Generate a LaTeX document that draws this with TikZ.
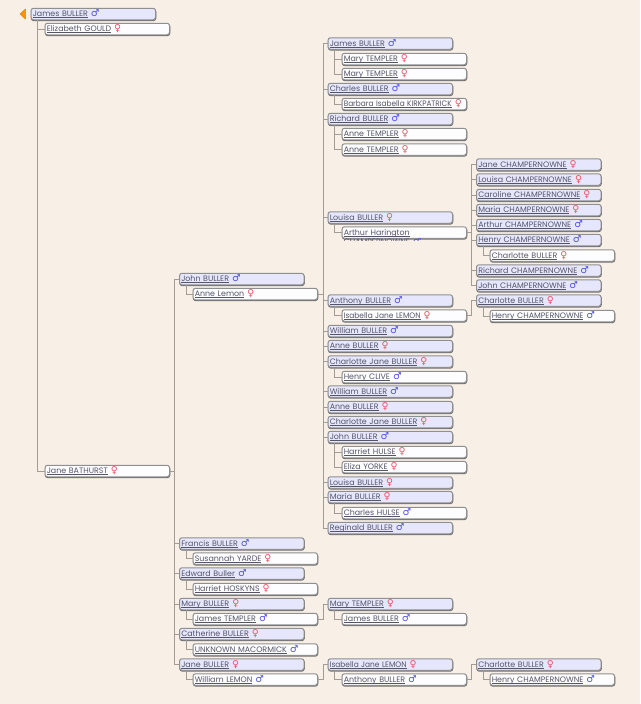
\documentclass[tikz,border=0pt]{standalone}
\usepackage{fontspec}
\setmainfont{Poppins}
\newfontfamily\symf{DejaVu Sans}
\definecolor{bgc}{HTML}{F8F0E7}
\definecolor{blueb}{HTML}{E6E6FC}
\definecolor{whiteb}{HTML}{FDFDFF}
\definecolor{edgec}{HTML}{8F8F8F}
\definecolor{shc}{HTML}{6E6E6E}
\definecolor{linec}{HTML}{A39C94}
\definecolor{txtc}{HTML}{55556A}
\definecolor{malec}{HTML}{4A4AE6}
\definecolor{femc}{HTML}{F0505F}
\newcommand{\ulx}[1]{\setbox0\hbox{#1}\rlap{\rule[-1.5pt]{\wd0}{0.6pt}}\box0}
\newcommand{\nr}[2]{\scalebox{#1}[1]{#2}}
\newcommand{\M}{\hspace{3pt}{\symf\bfseries\fontsize{9.5}{9.5}\selectfont\textcolor{malec}{♂}}}
\newcommand{\F}{\hspace{3pt}{\symf\bfseries\fontsize{9.5}{9.5}\selectfont\textcolor{femc}{♀}}}
\tikzset{
  pbox/.style={rectangle,rounded corners=2.5pt,draw=edgec,line width=1pt,minimum height=11.5pt,
    inner sep=0pt,text height=6pt,text depth=1pt,anchor=west,align=left,text=txtc,
    font=\fontsize{7.9}{9}\selectfont,
    preaction={draw=shc,line width=1pt,transform canvas={xshift=0.3pt,yshift=-0.9pt}}},
  bb/.style={pbox,fill=blueb,minimum width=124.5pt,text width=121pt},
  wb/.style={pbox,fill=whiteb,minimum width=124.5pt,text width=121pt},
  conn/.style={draw=linec,line width=1pt},
}
\newcommand{\pa}[6]{\node[#1] (#2) at (#3,#4) {\makebox[121pt][l]{\ulx{#5}#6}};}
\begin{document}
\begin{tikzpicture}[x=1pt,y=-1pt]
\useasboundingbox (0,0) rectangle (640,704);
\fill[bgc] (0,0) rectangle (640,704);
% column 1
\pa{bb}{a0}{30.5}{14}{James BULLER}{\M}
\pa{wb}{a1}{44.5}{29}{Elizabeth GOULD}{\F}
\pa{wb}{a2}{44.5}{471}{Jane BATHURST}{\F}
% column 2
\pa{bb}{b0}{179}{279}{John BULLER}{\M}
\pa{wb}{b1}{192.5}{294}{Anne Lemon}{\F}
\pa{bb}{b2}{179}{543.5}{Francis BULLER}{\M}
\pa{wb}{b3}{192.5}{558.5}{Susannah YARDE}{\F}
\pa{bb}{b4}{179}{573.5}{Edward Buller}{\M}
\pa{wb}{b5}{192.5}{589}{Harriet HOSKYNS}{\F}
\pa{bb}{b6}{179}{604}{Mary BULLER}{\F}
\pa{wb}{b7}{192.5}{619}{James TEMPLER}{\M}
\pa{bb}{b8}{179}{634}{Catherine BULLER}{\F}
\pa{wb}{b9}{192.5}{649.5}{UNKNOWN MACORMICK}{\M}
\pa{bb}{b10}{179}{664.5}{Jane BULLER}{\F}
\pa{wb}{b11}{192.5}{679.5}{William LEMON}{\M}
% column 3
\pa{bb}{c0}{327.5}{43.5}{James BULLER}{\M}
\pa{wb}{c1}{341.5}{59}{Mary TEMPLER}{\F}
\pa{wb}{c2}{341.5}{74}{Mary TEMPLER}{\F}
\pa{bb}{c3}{327.5}{89}{Charles BULLER}{\M}
\pa{wb}{c4}{341.5}{104}{\nr{0.93}{Barbara Isabella KIRKPATRICK}}{\F}
\pa{bb}{c5}{327.5}{119}{Richard BULLER}{\M}
\pa{wb}{c6}{341.5}{134}{Anne TEMPLER}{\F}
\pa{wb}{c7}{341.5}{149.5}{Anne TEMPLER}{\F}
\pa{bb}{c8}{327.5}{217.5}{Louisa BULLER}{\F}
\pa{wb}{c9}{341.5}{232.5}{Arthur Harington}{}
\pa{bb}{c10}{327.5}{300.5}{Anthony BULLER}{\M}
\pa{wb}{c11}{341.5}{315.5}{\nr{0.94}{Isabella Jane LEMON}}{\F}
\pa{bb}{c12}{327.5}{331}{William BULLER}{\M}
\pa{bb}{c13}{327.5}{346}{Anne BULLER}{\F}
\pa{bb}{c14}{327.5}{361.5}{Charlotte Jane BULLER}{\F}
\pa{wb}{c15}{341.5}{377}{Henry CLIVE}{\M}
\pa{bb}{c16}{327.5}{391.5}{William BULLER}{\M}
\pa{bb}{c17}{327.5}{407}{Anne BULLER}{\F}
\pa{bb}{c18}{327.5}{422}{Charlotte Jane BULLER}{\F}
\pa{bb}{c19}{327.5}{437}{John BULLER}{\M}
\pa{wb}{c20}{341.5}{452}{Harriet HULSE}{\F}
\pa{wb}{c21}{341.5}{467}{Eliza YORKE}{\F}
\pa{bb}{c22}{327.5}{482.5}{Louisa BULLER}{\F}
\pa{bb}{c23}{327.5}{497}{Maria BULLER}{\F}
\pa{wb}{c24}{341.5}{513}{Charles HULSE}{\M}
\pa{bb}{c25}{327.5}{528}{Reginald BULLER}{\M}
\pa{bb}{c26}{327.5}{604}{Mary TEMPLER}{\F}
\pa{wb}{c27}{341.5}{619}{James BULLER}{\M}
\pa{bb}{c28}{327.5}{664.5}{\nr{0.94}{Isabella Jane LEMON}}{\F}
\pa{wb}{c29}{341.5}{679.5}{Anthony BULLER}{\M}
% column 4
\pa{bb}{d0}{476}{164.5}{Jane CHAMPERNOWNE}{\F}
\pa{bb}{d1}{476}{179.5}{Louisa CHAMPERNOWNE}{\F}
\pa{bb}{d2}{476}{195}{Caroline CHAMPERNOWNE}{\F}
\pa{bb}{d3}{476}{210}{Maria CHAMPERNOWNE}{\F}
\pa{bb}{d4}{476}{225}{Arthur CHAMPERNOWNE}{\M}
\pa{bb}{d5}{476}{240}{Henry CHAMPERNOWNE}{\M}
\pa{wb}{d6}{489.5}{255.5}{Charlotte BULLER}{\F}
\pa{bb}{d7}{476}{270.5}{Richard CHAMPERNOWNE}{\M}
\pa{bb}{d8}{476}{285.5}{John CHAMPERNOWNE}{\M}
\pa{bb}{d9}{476}{300.5}{Charlotte BULLER}{\F}
\pa{wb}{d10}{489.5}{316}{Henry CHAMPERNOWNE}{\M}
\pa{bb}{d11}{476}{664.5}{Charlotte BULLER}{\F}
\pa{wb}{d12}{489.5}{679.5}{Henry CHAMPERNOWNE}{\M}
% clipped second line of Arthur Harington
\begin{scope}
\clip (343,238.4) rectangle (430,240.6);
\node[anchor=west,inner sep=0pt,text=txtc,font=\fontsize{7.9}{9}\selectfont] (c9b) at (343.5,241.8) {\ulx{CHAMPERNOWNE}\M};
\end{scope}
% marker
\fill[orange!85!yellow,draw=orange!60!brown,line width=.5pt,line join=round] (25.5,9) -- (20,14) -- (25.5,19) -- cycle;
% connectors
\foreach \p/\c in {a0/a1,a0/a2,b0/b1,b2/b3,b4/b5,b6/b7,b8/b9,b10/b11,
  c0/c1,c0/c2,c3/c4,c5/c6,c5/c7,c8/c9,c10/c11,c14/c15,c19/c20,c19/c21,c23/c24,c26/c27,c28/c29,
  d5/d6,d9/d10,d11/d12}
  \draw[conn] ([xshift=7pt]\p.south west) |- (\c.west);
\foreach \c in {b0,b2,b4,b6,b8,b10}
  \draw[conn] (a2.east) -- +(4.5,0) |- (\c.west);
\foreach \c in {c0,c3,c5,c8,c10,c12,c13,c14,c16,c17,c18,c19,c22,c23,c25}
  \draw[conn] (b1.east) -- +(5,0) |- (\c.west);
\foreach \c in {d0,d1,d2,d3,d4,d5,d7,d8}
  \draw[conn] (c9.east) -- +(4.5,0) |- (\c.west);
\draw[conn] (c11.east) -- +(4.5,0) |- (d9.west);
\draw[conn] (b7.east) -- +(5,0) |- (c26.west);
\draw[conn] (b11.east) -- +(5,0) |- (c28.west);
\draw[conn] (c29.east) -- +(4.5,0) |- (d11.west);
\end{tikzpicture}
\end{document}
